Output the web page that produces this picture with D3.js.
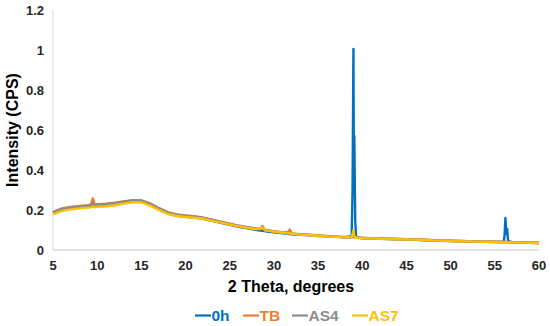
<!DOCTYPE html>
<html lang="en">
<head>
  <meta charset="UTF-8">
  <title>XRD patterns</title>
  <script src="https://d3js.org/d3.v7.min.js"></script>
  <style>
    body { margin: 0; padding: 0; background: #fff; }
    svg { display: block; font-family: "Liberation Sans", Arial, sans-serif; }
    .tick-label { font-size: 13px; font-weight: bold; fill: #262626; }
    .axis-title { font-size: 16px; font-weight: bold; fill: #000; }
    .legend-text { font-size: 15.5px; font-weight: bold; }
    .trace { fill: none; stroke-width: 2.4; stroke-linejoin: round; }
  </style>
</head>
<body>
  <script>
    // 2 Theta positions (degrees), shared by every series
    const theta = [
      5, 6, 7, 8, 9, 9.3, 9.5, 9.7, 10, 11, 12, 13, 14, 15, 16, 17, 18, 19, 20,
      21, 22, 23, 24, 25, 26, 27, 28, 28.5, 28.7, 28.9, 29, 30, 31, 31.6, 31.8,
      32, 33, 34, 35, 36, 37, 38, 38.8, 38.9, 39, 39.05, 39.1, 39.2, 39.3,
      40, 41, 42, 43, 44, 45, 46, 47, 48, 49, 50, 51, 52, 53, 54, 55, 56,
      56.1, 56.2, 56.3, 56.4, 56.5, 57, 58, 59, 60
    ];

    const series0h = [
      .186, .203, .211, .216, .220, .221, .222, .222, .224, .227, .232, .239, .246, .245, .228, .203, .182, .171, .166,
      .162, .156, .146, .136, .126, .116, .108, .100, .097, .096, .095, .094, .089, .084, .081, .080,
      .079, .076, .073, .070, .068, .066, .063, .070, .300, 1.005, .400, .570, .150, .065,
      .059, .058, .056, .055, .054, .053, .051, .049, .048, .046, .045, .044, .043, .042, .041, .040, .040,
      .070, .160, .080, .105, .045, .038, .037, .036, .035
    ];

    const seriesTB = [
      .190, .208, .215, .220, .224, .228, .258, .230, .228, .231, .236, .243, .249, .248, .233, .209, .189, .178, .173,
      .169, .162, .152, .142, .132, .122, .114, .107, .108, .120, .106, .100, .094, .088, .090, .102,
      .083, .079, .076, .073, .070, .067, .065, .064, .068, .078, .070, .065, .063, .062,
      .061, .059, .058, .056, .055, .054, .053, .051, .049, .048, .046, .045, .044, .043, .042, .041, .040,
      .040, .041, .040, .040, .040, .039, .038, .037, .036
    ];

    const seriesAS4 = [
      .188, .205, .213, .218, .222, .223, .236, .224, .226, .229, .234, .241, .248, .247, .231, .207, .187, .176, .171,
      .167, .161, .151, .141, .131, .121, .113, .106, .103, .108, .101, .099, .093, .087, .084, .086,
      .082, .078, .075, .072, .069, .067, .064, .063, .066, .072, .068, .064, .062, .062,
      .060, .059, .057, .056, .055, .054, .052, .051, .049, .047, .046, .045, .044, .043, .042, .041, .040,
      .040, .041, .040, .040, .040, .039, .038, .037, .035
    ];

    const seriesAS7 = [
      .178, .195, .203, .208, .212, .213, .218, .214, .216, .219, .224, .232, .239, .238, .222, .199, .180, .170, .165,
      .161, .156, .146, .137, .127, .118, .110, .104, .108, .112, .104, .098, .092, .086, .083, .084,
      .081, .077, .074, .071, .068, .066, .063, .066, .080, .100, .085, .070, .063, .061,
      .059, .058, .056, .055, .054, .053, .052, .050, .048, .047, .045, .044, .043, .042, .041, .040, .039,
      .039, .040, .039, .039, .039, .038, .037, .036, .034
    ];

    const seriesNames = ["0h", "TB", "AS4", "AS7"];
    const seriesColors = ["#0070C0", "#ED7D31", "#8C8C8C", "#FFC000"];
    const seriesValues = [series0h, seriesTB, seriesAS4, seriesAS7];

    const xTicks = [5, 10, 15, 20, 25, 30, 35, 40, 45, 50, 55, 60];
    const yTicks = [0, 0.2, 0.4, 0.6, 0.8, 1, 1.2];

    const width = 550, height = 326;
    const margin = { top: 10, right: 11, bottom: 76, left: 53 };

    const svg = d3.select("body").append("svg")
      .attr("width", width)
      .attr("height", height);

    const x = d3.scaleLinear().domain([5, 60]).range([margin.left, width - margin.right]);
    const y = d3.scaleLinear().domain([0, 1.2]).range([height - margin.bottom, margin.top]);

    // axis lines
    svg.append("line")
      .attr("x1", x(5)).attr("x2", x(5))
      .attr("y1", y(1.2)).attr("y2", y(0))
      .attr("stroke", "#d9d9d9").attr("stroke-width", 1);
    svg.append("line")
      .attr("x1", x(5)).attr("x2", x(60))
      .attr("y1", y(0)).attr("y2", y(0))
      .attr("stroke", "#d9d9d9").attr("stroke-width", 1.5);

    // tick labels
    svg.append("g").selectAll("text")
      .data(yTicks)
      .join("text")
      .attr("class", "tick-label")
      .attr("x", margin.left - 9)
      .attr("y", d => y(d))
      .attr("dy", "0.35em")
      .attr("text-anchor", "end")
      .text(d => d3.format("~g")(d));

    svg.append("g").selectAll("text")
      .data(xTicks)
      .join("text")
      .attr("class", "tick-label")
      .attr("x", d => x(d))
      .attr("y", y(0) + 20)
      .attr("text-anchor", "middle")
      .text(d => d);

    // traces
    const line = d3.line()
      .x((d, i) => x(theta[i]))
      .y(d => y(d));

    svg.append("g").selectAll("path")
      .data(seriesValues)
      .join("path")
      .attr("class", "trace")
      .attr("stroke", (d, i) => seriesColors[i])
      .attr("d", line);

    // axis titles
    svg.append("text")
      .attr("class", "axis-title")
      .attr("transform", `translate(18,${(y(0) + y(1.2)) / 2}) rotate(-90)`)
      .attr("text-anchor", "middle")
      .text("Intensity (CPS)");

    svg.append("text")
      .attr("class", "axis-title")
      .attr("x", 291)
      .attr("y", 292)
      .attr("text-anchor", "middle")
      .text("2 Theta, degrees");

    // legend
    const legendX = [195, 243, 292, 352];
    const legend = svg.append("g").selectAll("g")
      .data(seriesNames)
      .join("g")
      .attr("transform", (d, i) => `translate(${legendX[i]},321)`);

    legend.append("line")
      .attr("x1", 0).attr("x2", 16)
      .attr("y1", -5.5).attr("y2", -5.5)
      .attr("stroke", (d, i) => seriesColors[i])
      .attr("stroke-width", 2.2);

    legend.append("text")
      .attr("class", "legend-text")
      .attr("x", 16.5)
      .attr("fill", (d, i) => seriesColors[i])
      .text(d => d);
  </script>
</body>
</html>
